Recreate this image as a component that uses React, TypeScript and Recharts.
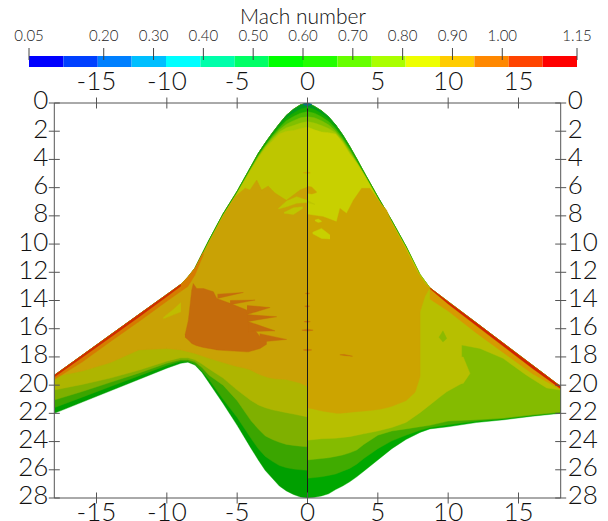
import React from 'react';
import { Area, ComposedChart, ReferenceLine, XAxis, YAxis } from 'recharts';

const FONT = 'Lato, sans-serif';

// colour bar
const machTicks = [0.05, 0.2, 0.3, 0.4, 0.5, 0.6, 0.7, 0.8, 0.9, 1.0, 1.15];
const machEdges = [0.05, 0.119, 0.188, 0.256, 0.325, 0.394, 0.463, 0.531, 0.6, 0.669, 0.738, 0.806, 0.875, 0.944, 1.013, 1.081, 1.15];
const machColors = [
  '#0000ff', '#0040ff', '#0080ff', '#00bfff', '#00ffff', '#00ffaa', '#00ff66', '#00ff00',
  '#22ff00', '#66ff00', '#aaff00', '#eeff00', '#ffcc00', '#ff8800', '#ff4400', '#ff0000',
];

// axes
const spanTicks = [-15, -10, -5, 0, 5, 10, 15];
const chordTicks = [0, 2, 4, 6, 8, 10, 12, 14, 16, 18, 20, 22, 24, 26, 28];

// left half of the wing
const xsL = [-18, -16, -14, -12, -10, -9, -8.5, -8, -7.5, -7, -6, -5, -4, -3.5, -3, -2.5, -2, -1.5, -1, -0.5, 0];
const leadL = [19.3, 17.87, 16.43, 15, 13.57, 12.85, 12.33, 11.7, 10.7, 9.72, 7.85, 6.25, 4.47, 3.57, 2.82, 2.12, 1.47, 0.87, 0.45, 0.13, 0];
const trailL = [22, 21.2, 20.4, 19.6, 18.8, 18.45, 18.37, 18.58, 19.1, 19.83, 21.3, 22.85, 24.5, 25.3, 26.05, 26.6, 27.15, 27.5, 27.75, 27.93, 28];
const bandBL = [21.6, 20.85, 20.1, 19.35, 18.6, 18.3, 18.3, 18.5, 19, 19.6, 21, 22.3, 23.8, 24.5, 25.05, 25.4, 25.7, 25.85, 25.95, 26, 26.04];
const bandCL = [21.06, 20.45, 19.8, 19.15, 18.45, 18.2, 18.2, 18.35, 18.75, 19.3, 20, 21.1, 22.55, 23.1, 23.6, 23.85, 24.05, 24.2, 24.27, 24.33, 24.37];
const bandDL = [20.35, 19.95, 19.5, 18.95, 18.3, 18.05, 18.05, 18.2, 18.5, 18.85, 19.5, 20.35, 21.1, 21.4, 21.6, 21.75, 21.85, 21.95, 22.05, 22.15, 22.25];

const xsCoreL = [-18, -16, -14, -12, -10, -9, -8, -7, -6, -5.15, -4.44, -4.09, -3.61, -3.26, -2.8, -2.31, -1.5, -0.53, 0];
const coreTopL = [19.35, 18, 16.55, 15.15, 13.75, 12.95, 11.8, 9.85, 8, 6.64, 6.04, 6.17, 5.46, 6.17, 5.89, 6.38, 6.9, 6.17, 5.96];
const coreBotL = [19.4, 19, 18.4, 17.5, 17.4, 17.5, 17.75, 18.1, 18.4, 18.65, 18.8, 18.9, 19.15, 19.3, 19.45, 19.55, 19.6, 19.85, 20.1];

const xsBlob = [-8.71, -8.47, -8.23, -8.12, -7.88, -7.4, -6.69, -6.45, -5.51, -4.32, -4.2, -3.37, -2.9];
const blobTop = [16.45, 15.4, 13.26, 12.8, 13.15, 13.15, 13.38, 13.85, 14.2, 14.68, 15.5, 16.57, 16.8];
const blobBot = [16.6, 16.8, 17.05, 17.1, 17.2, 17.33, 17.45, 17.5, 17.57, 17.64, 17.64, 17.4, 17.1];
const blobSpikes = [
  { xs: [-3.4, -1.48], tops: [16.35, 16.76], bots: [16.95, 16.76] },
  { xs: [-4.2, -2.31], tops: [15.5, 16.15], bots: [16.2, 16.15] },
  { xs: [-4.3, -2.19], tops: [15, 15.15], bots: [15.5, 15.15] },
  { xs: [-4.3, -2.66], tops: [14.35, 14.5], bots: [15, 14.5] },
  { xs: [-5.5, -3.73], tops: [14, 13.97], bots: [14.3, 13.97] },
  { xs: [-6.4, -4.56], tops: [13.55, 13.43], bots: [13.85, 13.43] },
];

const xsStripL = [-18, -16, -14, -12, -10, -9];
const leadStripL = [19.3, 17.87, 16.43, 15, 13.57, 12.85];
const strip1L = [19.6, 18.35, 16.9, 15.5, 14.05, 13.35];
const strip2L = [19.42, 18.02, 16.6, 15.18, 13.72, 12.98];

const xsEdgeL = [-9, -8.5, -8, -7.4];
const edgeTopL = [12.85, 12.33, 11.7, 10.55];
const edgeBotL = [13.35, 13, 12.2, 10.75];

const xsPatchL = [-10.25, -9.5, -9];
const patchTopL = [15.2, 14.6, 14.15];
const patchBotL = [15.3, 15, 14.8];

// right half
const xsR = [0, 0.5, 1, 1.5, 2, 2.5, 3, 3.5, 4, 5, 6, 7, 8, 8.7, 10, 12, 14, 16, 18];
const leadR = [0, 0.24, 0.55, 0.98, 1.55, 2.25, 3.07, 3.95, 4.87, 6.65, 8.35, 10.15, 12.15, 13.1, 14.08, 15.58, 17.09, 18.59, 20.1];
const trailR = [28, 27.95, 27.85, 27.7, 27.4, 27.15, 26.85, 26.5, 26.1, 25.3, 24.5, 23.85, 23.35, 23.1, 22.95, 22.65, 22.45, 22.2, 22];
const bandBR = [26.6, 26.55, 26.5, 26.4, 26.3, 26.1, 25.9, 25.6, 25.2, 24.5, 23.95, 23.55, 23.2, 23, 22.8, 22.55, 22.38, 22.15, 21.95];
const bandCR = [25.3, 25.25, 25.2, 25.15, 25.05, 24.95, 24.8, 24.6, 24.2, 23.55, 23.25, 23.1, 22.95, 22.85, 22.55, 22.45, 22.33, 22.1, 21.9];

const xsOliveR = [0, 1, 2, 3, 4, 5, 6, 7, 8, 8.7, 9.43, 9.9, 10.96, 10.96, 12.26, 13.9, 15.57, 17, 18];
const oliveTopR = [0, 0.55, 1.55, 3.07, 4.87, 6.65, 8.35, 10.15, 12.15, 13.1, 13.65, 14, 14.8, 14.8, 15.8, 17, 18.27, 19.35, 20.1];
const oliveBotR = [23.9, 23.8, 23.76, 23.65, 23.45, 23.25, 23, 22.65, 21.95, 21.4, 20.83, 20.47, 19.88, 17.16, 17.4, 18.1, 19.3, 20.2, 20.35];

const xsCoreR = [0, 1.12, 2.07, 2.31, 2.78, 3.26, 3.85, 4.44, 5.15, 5.63, 6, 7, 7.65, 8, 8, 8.35, 8.7];
const coreTopR = [7.9, 8.06, 8.42, 7.47, 7.83, 6.9, 6.05, 6.05, 7.05, 7.6, 8.5, 10.35, 11.65, 12.3, 12.3, 12.8, 13.1];
const coreBotR = [21.6, 21.85, 22, 22, 21.95, 21.9, 21.85, 21.8, 21.7, 21.6, 21.5, 21.1, 20.5, 19.4, 14.8, 13.7, 13.1];

const xsStripR = [8.7, 10, 12, 14, 16, 18];
const leadStripR = [13.1, 14.08, 15.58, 17.09, 18.59, 20.1];
const strip1R = [13.9, 14.75, 16.3, 17.75, 19.2, 20.3];
const strip2R = [13.15, 14.25, 15.78, 17.3, 18.82, 20.25];

// nose
const xsNose = [-8, -7, -6, -5, -4, -3.5, -3, -2.5, -2, -1.5, -1, -0.5, 0, 0.5, 1, 1.5, 2, 2.5, 3, 3.5, 4, 5, 6, 7, 7.9];
const noseFloor = xsNose.map(() => 13);
const nose0 = [11.7, 9.72, 7.85, 6.25, 4.47, 3.57, 2.82, 2.12, 1.47, 0.87, 0.45, 0.13, 0, 0.24, 0.55, 0.98, 1.55, 2.25, 3.07, 3.95, 4.87, 6.65, 8.35, 10.15, 12];
const nose1 = [11.75, 9.77, 7.9, 6.3, 4.52, 3.63, 2.9, 2.22, 1.6, 1.05, 0.7, 0.42, 0.31, 0.45, 0.75, 1.12, 1.68, 2.35, 3.15, 4.02, 4.93, 6.7, 8.4, 10.2, 12.05];
const nose2 = [11.8, 9.82, 7.95, 6.35, 4.58, 3.7, 2.98, 2.32, 1.75, 1.25, 0.95, 0.72, 0.61, 0.72, 0.98, 1.32, 1.82, 2.47, 3.25, 4.1, 5, 6.75, 8.45, 10.25, 12.1];
const nose3 = [11.82, 9.85, 7.97, 6.38, 4.62, 3.76, 3.05, 2.42, 1.9, 1.5, 1.25, 1.05, 0.97, 1.05, 1.25, 1.55, 1.98, 2.6, 3.35, 4.18, 5.02, 6.78, 8.5, 10.3, 12.1];
const nose4 = [11.84, 9.87, 7.98, 6.39, 4.66, 3.84, 3.12, 2.55, 2.05, 1.75, 1.6, 1.42, 1.32, 1.42, 1.6, 1.8, 2.1, 2.7, 3.47, 4.22, 5.03, 6.79, 8.5, 10.3, 12.1];

const xsYellowL = [-8, -7, -6, -5, -4, -3.5, -3, -2.5, -2, -1.5, -1, -0.5, 0];
const yellowTopL = [11.85, 9.9, 8, 6.4, 4.7, 3.9, 3.2, 2.7, 2.2, 2, 1.95, 1.8, 1.7];
const yellowBotL = [13, 13, 13, 13, 13, 13, 13, 13, 13, 13, 13, 13, 13];
const xsYellowR = [0, 0.5, 1, 1.5, 2, 2.5, 3, 3.5, 4, 5, 6, 7, 7.9];
const yellowTopR = [1.7, 1.9, 2.05, 2.1, 2.2, 2.8, 3.6, 4.25, 5.05, 6.8, 8.45, 10.25, 12];
const yellowBotR = [13, 13, 13, 13, 13, 13, 13, 13, 13, 13, 13, 13, 13];

const yellowBlobs = [
  { xs: [-2.07, -1.48, -0.77, -0.06, 0.53], tops: [7.47, 6.95, 6.64, 6.88, 7.17], bots: [7.52, 7.35, 7.11, 7.05, 7.2], fill: '#bec600' },
  { xs: [-1.67, -1, -0.34], tops: [7.76, 7.43, 7.35], bots: [7.81, 7.9, 7.47], fill: '#bec600' },
  { xs: [0.37, 1, 1.6], tops: [9.17, 8.89, 9.36], bots: [9.27, 9.6, 9.64], fill: '#c8d000' },
  { xs: [0.53, 0.76, 1], tops: [8.3, 8.23, 8.37], bots: [8.35, 8.47, 8.42], fill: '#c8d000' },
];

const marks = [
  { xs: [0, 0.3, 0.65], tops: [5.9, 5.95, 6.3], bots: [6.4, 6.45, 6.35], fill: '#cca400' },
  { xs: [-0.3, 0, 0.2], tops: [4.95, 4.9, 4.95], bots: [4.95, 5.0, 4.95], fill: '#cca400' },
  { xs: [-0.15, 0, 0.15], tops: [13.5, 13.45, 13.5], bots: [13.5, 13.55, 13.5], fill: '#c56c0c' },
  { xs: [-0.2, 0, 0.15], tops: [14.4, 14.35, 14.4], bots: [14.4, 14.48, 14.4], fill: '#c56c0c' },
  { xs: [-0.25, 0, 0.2], tops: [15.5, 15.45, 15.5], bots: [15.5, 15.55, 15.5], fill: '#c56c0c' },
  { xs: [-0.4, 0, 0.4], tops: [16.1, 16.03, 16.1], bots: [16.1, 16.17, 16.1], fill: '#c56c0c' },
  { xs: [-0.3, 0, 0.3], tops: [17.5, 17.45, 17.5], bots: [17.5, 17.57, 17.5], fill: '#c56c0c' },
  { xs: [2.3, 2.6, 3.2], tops: [17.85, 17.82, 17.95], bots: [17.85, 17.9, 17.95], fill: '#c56c0c' },
];

const oliveTooth = { xs: [10.9, 11.07, 11.55], tops: [18, 18, 19.17], bots: [19.88, 19.88, 19.17] };
const greenDot = { xs: [9.35, 9.63, 9.9], tops: [16.6, 16.15, 16.7], bots: [16.6, 16.95, 16.7] };
const noseTip = { xs: [-0.3, 0, 0.3], tops: [0.05, 0, 0.07], bots: [0.12, 0.2, 0.12] };

const band = (xs: number[], tops: number[], bots: number[]) =>
  xs.map((x, i) => ({ x, range: [tops[i], bots[i]] }));

const layers = [
  { data: band(xsL, leadL, trailL), fill: '#009f00' },
  { data: band(xsR, leadR, trailR), fill: '#00a800' },
  { data: band(xsL, leadL, bandBL), fill: '#3ba500' },
  { data: band(xsR, leadR, bandBR), fill: '#40ab00' },
  { data: band(xsL, leadL, bandCL), fill: '#7fb000' },
  { data: band(xsR, leadR, bandCR), fill: '#84bb00' },
  { data: band(xsL, leadL, bandDL), fill: '#aeb500' },
  { data: band(xsOliveR, oliveTopR, oliveBotR), fill: '#b7bf00' },
  { data: band(oliveTooth.xs, oliveTooth.tops, oliveTooth.bots), fill: '#b7bf00' },
  { data: band(greenDot.xs, greenDot.tops, greenDot.bots), fill: '#8cba00' },
  { data: band(xsNose, nose0, noseFloor), fill: '#009a20' },
  { data: band(xsNose, nose1, noseFloor), fill: '#18aa00' },
  { data: band(xsNose, nose2, noseFloor), fill: '#4cb800' },
  { data: band(xsNose, nose3, noseFloor), fill: '#80c000' },
  { data: band(xsNose, nose4, noseFloor), fill: '#a4c800' },
  { data: band(xsYellowL, yellowTopL, yellowBotL), fill: '#bec600' },
  { data: band(xsYellowR, yellowTopR, yellowBotR), fill: '#c8d000' },
  { data: band(xsCoreL, coreTopL, coreBotL), fill: '#c9a205' },
  { data: band(xsCoreR, coreTopR, coreBotR), fill: '#cca400' },
  ...yellowBlobs.map((b) => ({ data: band(b.xs, b.tops, b.bots), fill: b.fill })),
  { data: band(xsPatchL, patchTopL, patchBotL), fill: '#c0bc00' },
  { data: band(xsBlob, blobTop, blobBot), fill: '#c56c0c' },
  ...blobSpikes.map((b) => ({ data: band(b.xs, b.tops, b.bots), fill: '#c56c0c' })),
  ...marks.map((b) => ({ data: band(b.xs, b.tops, b.bots), fill: b.fill })),
  { data: band(xsEdgeL, edgeTopL, edgeBotL), fill: '#d67b00' },
  { data: band(xsStripL, leadStripL, strip1L), fill: '#d67b00' },
  { data: band(xsStripL, leadStripL, strip2L), fill: '#cf2c00' },
  { data: band(xsStripR, leadStripR, strip1R), fill: '#d69a00' },
  { data: band(xsStripR, leadStripR, strip2R), fill: '#cf2400' },
  { data: band(noseTip.xs, noseTip.tops, noseTip.bots), fill: '#0a6f88' },
];

const machSegments = machColors.map((fill, i) => ({
  fill,
  data: [
    { x: machEdges[i], range: [0, 1] },
    { x: machEdges[i + 1], range: [0, 1] },
  ],
}));

const labelStyle = { fontSize: 26, fontFamily: FONT, fontWeight: 300, fill: '#111' };

const MainTick = ({ x, y, payload, side }: any) => {
  const horizontal = side === 'top' || side === 'bottom';
  const label = String(payload.value);
  return (
    <g>
      {horizontal ? (
        <line x1={x} x2={x} y1={y - 5.5} y2={y + 5.5} stroke="#555" strokeWidth={1} />
      ) : (
        <line x1={x - 5.5} x2={x + 5.5} y1={y} y2={y} stroke="#555" strokeWidth={1} />
      )}
      {side === 'top' && <text x={x} y={y - 19.5} textAnchor="middle" dominantBaseline="middle" {...labelStyle}>{label}</text>}
      {side === 'bottom' && <text x={x} y={y + 16.5} textAnchor="middle" dominantBaseline="middle" {...labelStyle}>{label}</text>}
      {side === 'left' && <text x={x - 6} y={y} textAnchor="end" dominantBaseline="middle" {...labelStyle}>{label}</text>}
      {side === 'right' && <text x={x + 7} y={y} textAnchor="start" dominantBaseline="middle" {...labelStyle}>{label}</text>}
    </g>
  );
};

const MachTick = ({ x, y, payload }: any) => (
  <g>
    <line x1={x} x2={x} y1={y - 8} y2={y + 4} stroke="#444" strokeWidth={1} />
    <text x={x} y={y - 19} textAnchor="middle" dominantBaseline="middle" fontSize={15} fontFamily={FONT} fontWeight={300} fill="#222">
      {payload.value.toFixed(2)}
    </text>
  </g>
);

const App: React.FC = () => (
  <div style={{ position: 'absolute', left: 0, top: 0, width: 608, height: 521, background: '#fff', overflow: 'hidden' }}>
    <div style={{ position: 'absolute', left: 0, top: 0 }}>
      <ComposedChart width={608} height={521} margin={{ top: 63, right: 7.3, bottom: 0, left: 14.3 }}>
        <XAxis dataKey="x" type="number" domain={[-18, 18]} ticks={spanTicks} interval={0} height={23} tickSize={0} tickMargin={0} tickLine={false} allowDataOverflow stroke="#555" tick={(p: any) => <MainTick {...p} side="bottom" />} />
        <XAxis xAxisId="top" orientation="top" dataKey="x" type="number" domain={[-18, 18]} ticks={spanTicks} interval={0} height={40} tickSize={0} tickMargin={0} tickLine={false} allowDataOverflow stroke="#555" tick={(p: any) => <MainTick {...p} side="top" />} />
        <YAxis type="number" reversed domain={[0, 28]} ticks={chordTicks} interval={0} width={40} tickSize={0} tickMargin={0} tickLine={false} allowDataOverflow stroke="#555" tick={(p: any) => <MainTick {...p} side="left" />} />
        <YAxis yAxisId="right" orientation="right" type="number" reversed domain={[0, 28]} ticks={chordTicks} interval={0} width={40} tickSize={0} tickMargin={0} tickLine={false} allowDataOverflow stroke="#555" tick={(p: any) => <MainTick {...p} side="right" />} />
        {layers.map((l, i) => (
          <Area key={i} data={l.data} dataKey="range" type="linear" fill={l.fill} fillOpacity={1} stroke={l.fill} strokeWidth={0.4} dot={false} activeDot={false} isAnimationActive={false} legendType="none" />
        ))}
        <ReferenceLine x={0} stroke="#1a1a1a" strokeWidth={1} />
      </ComposedChart>
    </div>
    <div style={{ position: 'absolute', left: 0, top: 0 }}>
      <ComposedChart width={608} height={75} margin={{ top: 26, right: 31, bottom: 8, left: 29 }}>
        <XAxis orientation="top" dataKey="x" type="number" domain={[0.05, 1.15]} ticks={machTicks} interval={0} height={30} tickSize={0} tickMargin={0} tickLine={false} axisLine={false} allowDataOverflow tick={(p: any) => <MachTick {...p} />} />
        <YAxis hide type="number" domain={[0, 1]} />
        {machSegments.map((s, i) => (
          <Area key={i} data={s.data} dataKey="range" type="linear" fill={s.fill} fillOpacity={1} stroke="none" dot={false} activeDot={false} isAnimationActive={false} legendType="none" />
        ))}
      </ComposedChart>
    </div>
    <div style={{ position: 'absolute', left: 0, width: 606, top: 5, lineHeight: '21px', textAlign: 'center', fontFamily: FONT, fontWeight: 300, fontSize: 21, color: '#111' }}>
      Mach number
    </div>
  </div>
);

export default App;
